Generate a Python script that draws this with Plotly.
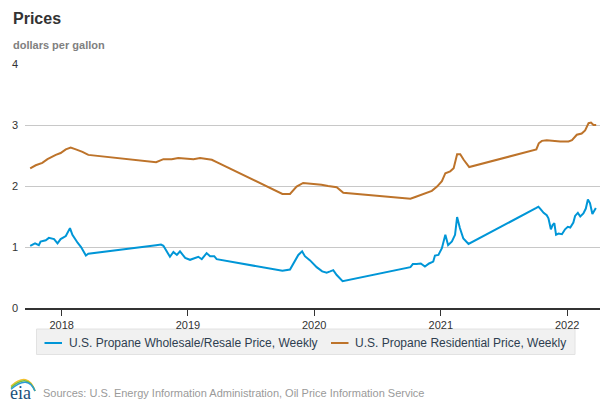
import plotly.graph_objects as go

# ---- data ----
wholesale_dates = [
    "2017-10-02", "2017-10-16", "2017-10-27", "2017-11-01", "2017-11-16", "2017-11-25",
    "2017-12-10", "2017-12-20", "2017-12-29", "2018-01-13", "2018-01-25", "2018-02-01",
    "2018-02-16", "2018-02-26", "2018-03-12", "2018-03-19",
    "2018-10-01", "2018-10-15", "2018-10-22", "2018-11-10", "2018-11-20", "2018-11-30",
    "2018-12-09", "2018-12-24", "2019-01-07", "2019-01-31", "2019-02-10", "2019-02-24",
    "2019-03-06", "2019-03-18", "2019-03-25",
    "2019-10-01", "2019-10-23", "2019-11-06", "2019-11-16", "2019-11-27", "2019-12-05",
    "2019-12-20", "2020-01-08", "2020-01-24", "2020-02-06", "2020-02-16", "2020-02-25",
    "2020-03-06", "2020-03-23",
    "2020-10-05", "2020-10-12", "2020-10-23", "2020-11-04", "2020-11-16", "2020-11-28",
    "2020-12-10", "2020-12-15", "2020-12-25", "2021-01-04", "2021-01-14", "2021-01-22",
    "2021-02-02", "2021-02-11", "2021-02-17", "2021-02-25", "2021-03-07", "2021-03-22",
    "2021-10-04", "2021-10-10", "2021-10-15", "2021-10-25", "2021-11-03", "2021-11-08",
    "2021-11-15", "2021-11-20", "2021-11-25", "2021-11-30", "2021-12-07", "2021-12-17",
    "2021-12-26", "2022-01-03", "2022-01-10", "2022-01-19", "2022-01-24", "2022-02-01",
    "2022-02-08", "2022-02-17", "2022-02-24", "2022-03-02", "2022-03-08", "2022-03-15",
    "2022-03-25",
]
wholesale_values = [
    1.02, 1.06, 1.03, 1.09, 1.11, 1.15,
    1.13, 1.06, 1.13, 1.18, 1.31, 1.20,
    1.07, 1.00, 0.86, 0.89,
    1.03, 1.04, 1.02, 0.84, 0.92, 0.87,
    0.93, 0.82, 0.79, 0.84, 0.80, 0.90,
    0.85, 0.85, 0.80,
    0.61, 0.63, 0.76, 0.87, 0.93, 0.85,
    0.78, 0.67, 0.60, 0.58, 0.60, 0.62,
    0.54, 0.44,
    0.67, 0.72, 0.72, 0.73, 0.68, 0.73,
    0.76, 0.86, 0.87, 0.98, 1.20, 1.03,
    1.09, 1.20, 1.49, 1.31, 1.14, 1.05,
    1.64, 1.66, 1.63, 1.56, 1.52, 1.47,
    1.29, 1.36, 1.39, 1.20, 1.22, 1.21,
    1.29, 1.33, 1.32, 1.40, 1.51, 1.56,
    1.50, 1.55, 1.63, 1.78, 1.72, 1.54,
    1.64,
]

residential_dates = [
    "2017-10-02", "2017-10-18", "2017-11-06", "2017-11-21", "2017-12-15", "2017-12-29",
    "2018-01-13", "2018-01-27", "2018-02-11", "2018-03-02", "2018-03-19",
    "2018-10-01", "2018-10-22", "2018-11-15", "2018-12-04", "2019-01-02", "2019-01-17",
    "2019-02-05", "2019-02-24", "2019-03-11", "2019-03-25",
    "2019-10-01", "2019-10-23", "2019-11-11", "2019-11-30", "2019-12-20", "2020-01-03",
    "2020-01-22", "2020-02-10", "2020-03-06", "2020-03-25",
    "2020-10-05", "2020-10-19", "2020-11-07", "2020-11-26", "2020-12-06", "2020-12-21",
    "2021-01-04", "2021-01-14", "2021-01-28", "2021-02-07", "2021-02-17", "2021-02-26",
    "2021-03-08", "2021-03-24",
    "2021-10-04", "2021-10-11", "2021-10-20", "2021-11-03", "2021-11-22", "2021-12-12",
    "2022-01-05", "2022-01-15", "2022-01-29", "2022-02-12", "2022-02-22", "2022-03-04",
    "2022-03-11", "2022-03-18", "2022-03-26",
]
residential_values = [
    2.29, 2.34, 2.38, 2.44, 2.51, 2.54,
    2.60, 2.63, 2.60, 2.56, 2.51,
    2.39, 2.44, 2.44, 2.46, 2.45, 2.44,
    2.46, 2.45, 2.43, 2.39,
    1.87, 1.87, 1.99, 2.05, 2.04, 2.03,
    2.02, 2.00, 1.98, 1.89,
    1.79, 1.82, 1.86, 1.89, 1.92, 1.99,
    2.08, 2.21, 2.24, 2.29, 2.52, 2.52,
    2.43, 2.31,
    2.60, 2.70, 2.74, 2.75, 2.74, 2.73,
    2.73, 2.75, 2.84, 2.86, 2.91, 3.03,
    3.04, 3.00, 3.00,
]

series_names = [
    "U.S. Propane Wholesale/Resale Price, Weekly",
    "U.S. Propane Residential Price, Weekly",
]
year_ticks = ["2018-01-01", "2019-01-01", "2020-01-01", "2021-01-01", "2022-01-01"]
year_labels = ["2018", "2019", "2020", "2021", "2022"]
y_ticks = [0, 1, 2, 3, 4]

BLUE = "#0096d7"
BROWN = "#bd732a"
FONT = "Liberation Sans, Arial, sans-serif"

# page has an 8px body margin: figure is 8px smaller, positions below are in page pixels
OFF = 8
PL, PR, PT, PB = 25, 600, 64, 308   # plot area in page pixels


def px(x):
    return (x - PL) / (PR - PL)


def py(y):
    return (PB - y) / (PB - PT)


fig = go.Figure()
fig.add_trace(go.Scatter(x=wholesale_dates, y=wholesale_values, mode="lines",
                         name=series_names[0], line=dict(color=BLUE, width=2)))
fig.add_trace(go.Scatter(x=residential_dates, y=residential_values, mode="lines",
                         name=series_names[1], line=dict(color=BROWN, width=2)))

fig.update_layout(
    width=611 - OFF, height=407 - OFF,
    margin=dict(l=PL - OFF, r=611 - PR, t=PT - OFF, b=407 - PB, autoexpand=False),
    paper_bgcolor="white", plot_bgcolor="white",
    font=dict(family=FONT, size=11, color="#333333"),
    showlegend=False,
    xaxis=dict(type="date", range=["2017-09-17", "2022-04-06"],
               tickvals=year_ticks, ticktext=year_labels, automargin=False,
               showgrid=False, showline=True, linecolor="#333333", linewidth=1.5,
               ticks="outside", ticklen=6, tickcolor="#333333",
               tickfont=dict(size=11, color="#333333"), zeroline=False),
    yaxis=dict(range=[0, 4], tickvals=y_ticks, showgrid=True, gridcolor="#c8c8c8",
               gridwidth=1, zeroline=False, showline=False, automargin=False,
               ticks="", ticklabelstandoff=6,
               tickfont=dict(size=11, color="#333333")),
)

# titles
fig.add_annotation(text="<b>Prices</b>", xref="paper", yref="paper",
                   x=px(11), y=py(18.5), xanchor="left", yanchor="middle",
                   showarrow=False, font=dict(size=16, color="#333333", family=FONT))
fig.add_annotation(text="<b>dollars per gallon</b>", xref="paper", yref="paper",
                   x=px(11), y=py(45), xanchor="left", yanchor="middle",
                   showarrow=False, font=dict(size=11, color="#808080", family=FONT))

# legend box drawn manually
fig.add_shape(type="rect", xref="paper", yref="paper",
              x0=px(36.5), x1=px(575), y0=py(329), y1=py(354.5),
              fillcolor="#f1f1f1", line=dict(color="#e2e2e2", width=1), layer="below")
legend_items = [(44.5, 62, 66.5, BLUE, series_names[0]),
                (331, 348.5, 352.5, BROWN, series_names[1])]
for x0, x1, xt, col, name in legend_items:
    fig.add_shape(type="line", xref="paper", yref="paper",
                  x0=px(x0), x1=px(x1), y0=py(343), y1=py(343),
                  line=dict(color=col, width=2))
    fig.add_annotation(text=name, xref="paper", yref="paper", x=px(xt), y=py(342.5),
                       xanchor="left", yanchor="middle", showarrow=False,
                       font=dict(size=12, color="#2e3e50", family=FONT))

# source
fig.add_annotation(text="Sources: U.S. Energy Information Administration, Oil Price Information Service",
                   xref="paper", yref="paper", x=px(41), y=py(393.5),
                   xanchor="left", yanchor="middle", showarrow=False,
                   font=dict(size=11, color="#9a9a9a", family=FONT))

# eia logo (text + arcs), kept inside the figure's left edge
fig.add_annotation(text="eia", xref="paper", yref="paper", x=px(8), y=py(393),
                   xanchor="left", yanchor="middle", showarrow=False,
                   font=dict(size=18, color="#1a4f7a", family="Liberation Serif, DejaVu Serif, serif"))
arc_colors = ["#f2c12e", "#7bbf3a", "#2a9ad6"]
for i, c in enumerate(arc_colors):
    d = i * 1.6
    fig.add_shape(type="path", xref="paper", yref="paper",
                  path="M {:.4f},{:.4f} Q {:.4f},{:.4f} {:.4f},{:.4f}".format(
                      px(11), py(386 + d), px(28), py(371 + d), px(35), py(391)),
                  line=dict(color=c, width=1.5))

fig.write_html("out.html")
